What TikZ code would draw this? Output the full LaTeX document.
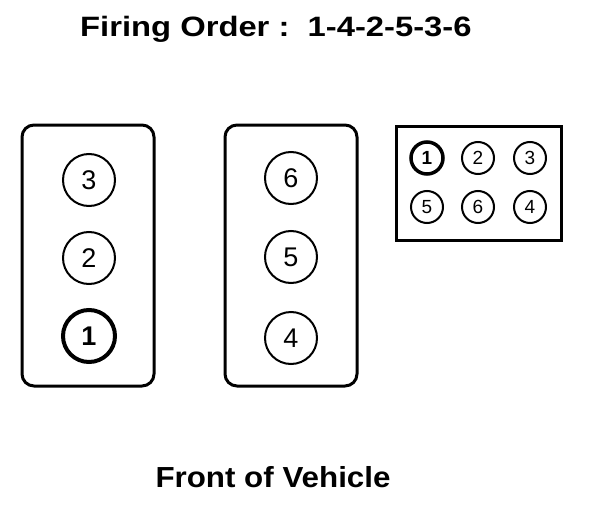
\documentclass[tikz,border=0pt]{standalone}
\usepackage{fontspec}
\setmainfont{Liberation Sans}
\begin{document}
\begin{tikzpicture}[x=1pt,y=-1pt,
  bank/.style={draw,line width=3pt,rounded corners=12pt},
  cyl/.style={draw,circle,line width=2pt,minimum size=52pt,inner sep=0pt,font=\fontsize{27}{27}\selectfont},
  cylone/.style={cyl,line width=4pt,font=\fontsize{27}{27}\selectfont\bfseries},
  scyl/.style={draw,circle,line width=2pt,minimum size=32pt,inner sep=0pt,font=\fontsize{19}{19}\selectfont},
  scylone/.style={scyl,line width=3.5pt,font=\fontsize{19}{19}\selectfont\bfseries}]
\useasboundingbox (0,0) rectangle (608,522);
\begin{scope}
\clip (0,0) rectangle (608,41);
\node[anchor=base west,font=\fontsize{28}{28}\selectfont\bfseries,inner sep=0pt] (title) at (80,36) {\scalebox{1.17}[1]{Firing Order :~~1-4-2-5-3-6}};
\end{scope}
\draw[bank] (22,125) rectangle (154,386);
\node (leftbank) at (88,255) {};
\draw[bank] (225,125) rectangle (357,386);
\node (rightbank) at (291,255) {};
\node[cyl] (c3) at (89,180) {3};
\node[cyl] (c2) at (89,258) {2};
\node[cylone] (c1) at (89,336) {1};
\node[cyl] (c6) at (291,178) {6};
\node[cyl] (c5) at (291,257) {5};
\node[cyl] (c4) at (291,338) {4};
\draw[line width=3pt] (396,126) rectangle (561,240);
\node[scylone] (s1) at (427,158) {1};
\node[scyl] (s2) at (478,158) {2};
\node[scyl] (s3) at (530,158) {3};
\node[scyl] (s5) at (427,207) {5};
\node[scyl] (s6) at (478,207) {6};
\node[scyl] (s4) at (530,207) {4};
\node[anchor=base,font=\fontsize{29}{29}\selectfont\bfseries,inner sep=0pt] (front) at (273,487) {\scalebox{1.08}[1]{Front of Vehicle}};
\end{tikzpicture}
\end{document}
